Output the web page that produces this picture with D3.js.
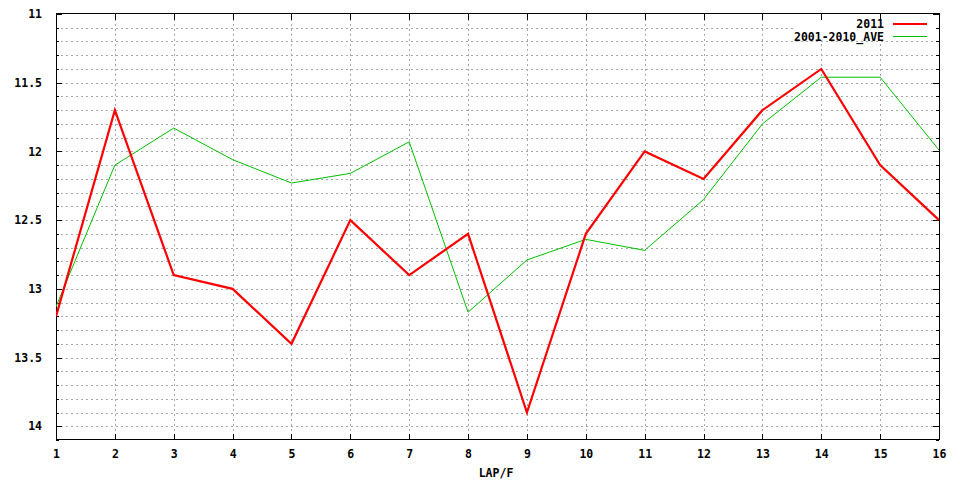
<!DOCTYPE html>
<html><head><meta charset="utf-8">
<script src="https://cdn.jsdelivr.net/npm/d3@7"></script>
<style>
body{margin:0;background:#fff;}
text{font-family:"DejaVu Sans Mono","Liberation Mono",monospace;font-weight:bold;font-size:11.5px;fill:#000;}
</style></head>
<body><svg id="c" width="960" height="480"></svg>
<script>
const laps = [1,2,3,4,5,6,7,8,9,10,11,12,13,14,15,16];
const series2011 = [13.2,11.7,12.9,13.0,13.4,12.5,12.9,12.6,13.9,12.6,12.0,12.2,11.7,11.4,12.1,12.5];
const seriesAve = [13.13,12.1,11.83,12.06,12.23,12.16,11.93,13.17,12.79,12.64,12.72,12.35,11.8,11.46,11.46,11.99];
const yMajorTicks = [11,11.5,12,12.5,13,13.5,14];
const yMinorTicks = [11.1,11.2,11.3,11.4,11.6,11.7,11.8,11.9,12.1,12.2,12.3,12.4,12.6,12.7,12.8,12.9,13.1,13.2,13.3,13.4,13.6,13.7,13.8,13.9,14.1];
const seriesNames = ["2011","2001-2010_AVE"];
const xTitle = "LAP/F";

const L=56,R=939,T=14,B=440;
const svg=d3.select("#c");
const x=d3.scaleLinear().domain([1,16]).range([L,R]);
const y=d3.scaleLinear().domain([11,14.1]).range([T,B]);

// grid
const g=svg.append("g").attr("stroke","#a8a8a8").attr("stroke-width",1).attr("stroke-dasharray","2,3").attr("shape-rendering","crispEdges");
g.selectAll("line.h").data(yMajorTicks.concat(yMinorTicks).filter(v=>v>11&&v<14.1)).enter().append("line")
 .attr("x1",L).attr("x2",R).attr("y1",d=>Math.round(y(d))+0.5).attr("y2",d=>Math.round(y(d))+0.5);
g.selectAll("line.v").data(laps.filter(v=>v>1&&v<16)).enter().append("line")
 .attr("y1",T).attr("y2",B).attr("x1",d=>Math.round(x(d))+0.5).attr("x2",d=>Math.round(x(d))+0.5);

// legend background
svg.append("rect").attr("x",793).attr("y",15).attr("width",144).attr("height",25).attr("fill","#fff");

// axes
function styleAxis(sel){sel.select(".domain").remove();sel.selectAll(".tick line").attr("stroke","#000").attr("shape-rendering","crispEdges");}
const ax=svg.append("g").attr("transform",`translate(0,${B})`).call(d3.axisBottom(x).tickValues(laps).tickSize(-6).tickPadding(13).tickFormat(d3.format("d")));
styleAxis(ax); ax.selectAll("text").attr("dy","0.35em").attr("y",14);
const axT=svg.append("g").attr("transform",`translate(0,${T})`).call(d3.axisTop(x).tickValues(laps).tickSize(-6).tickFormat(""));
styleAxis(axT);
const ayL=svg.append("g").attr("transform",`translate(${L},0)`).call(d3.axisLeft(y).tickValues(yMajorTicks).tickSize(-6).tickPadding(14).tickFormat(d=>String(d)));
styleAxis(ayL);
svg.append("g").attr("transform",`translate(${L},0)`).call(d3.axisLeft(y).tickValues(yMinorTicks).tickSize(-3).tickFormat("")).call(styleAxis);
svg.append("g").attr("transform",`translate(${R},0)`).call(d3.axisRight(y).tickValues(yMajorTicks).tickSize(-6).tickFormat("")).call(styleAxis);
svg.append("g").attr("transform",`translate(${R},0)`).call(d3.axisRight(y).tickValues(yMinorTicks).tickSize(-3).tickFormat("")).call(styleAxis);
svg.selectAll(".tick text").attr("font-size",null).attr("font-family",null);

// frame
svg.append("rect").attr("x",L+0.5).attr("y",T-0.5).attr("width",R-L).attr("height",B-T).attr("fill","none").attr("stroke","#000").attr("shape-rendering","crispEdges");

// lines
const line=d3.line().x((d,i)=>x(laps[i])).y(d=>y(d));
svg.append("clipPath").attr("id","cp").append("rect").attr("x",L).attr("y",T).attr("width",R-L).attr("height",B-T);
svg.append("path").datum(seriesAve).attr("d",line).attr("fill","none").attr("stroke","#00c000").attr("stroke-width",1).attr("clip-path","url(#cp)");
svg.append("path").datum(series2011).attr("d",line).attr("fill","none").attr("stroke","#ff0000").attr("stroke-width",2.2).attr("stroke-linejoin","miter").attr("clip-path","url(#cp)");

// legend
const lg=svg.append("g");
lg.append("text").attr("x",884).attr("y",24).attr("dy","0.35em").attr("text-anchor","end").text(seriesNames[0]);
lg.append("line").attr("x1",893).attr("x2",927).attr("y1",24).attr("y2",24).attr("stroke","#ff0000").attr("stroke-width",2.2);
lg.append("text").attr("x",884).attr("y",36.5).attr("dy","0.35em").attr("text-anchor","end").text(seriesNames[1]);
lg.append("line").attr("x1",893).attr("x2",927).attr("y1",36.5).attr("y2",36.5).attr("stroke","#00c000").attr("stroke-width",1);

// x title
svg.append("text").attr("x",496).attr("y",472.5).attr("dy","0.35em").attr("text-anchor","middle").text(xTitle);
</script></body></html>
